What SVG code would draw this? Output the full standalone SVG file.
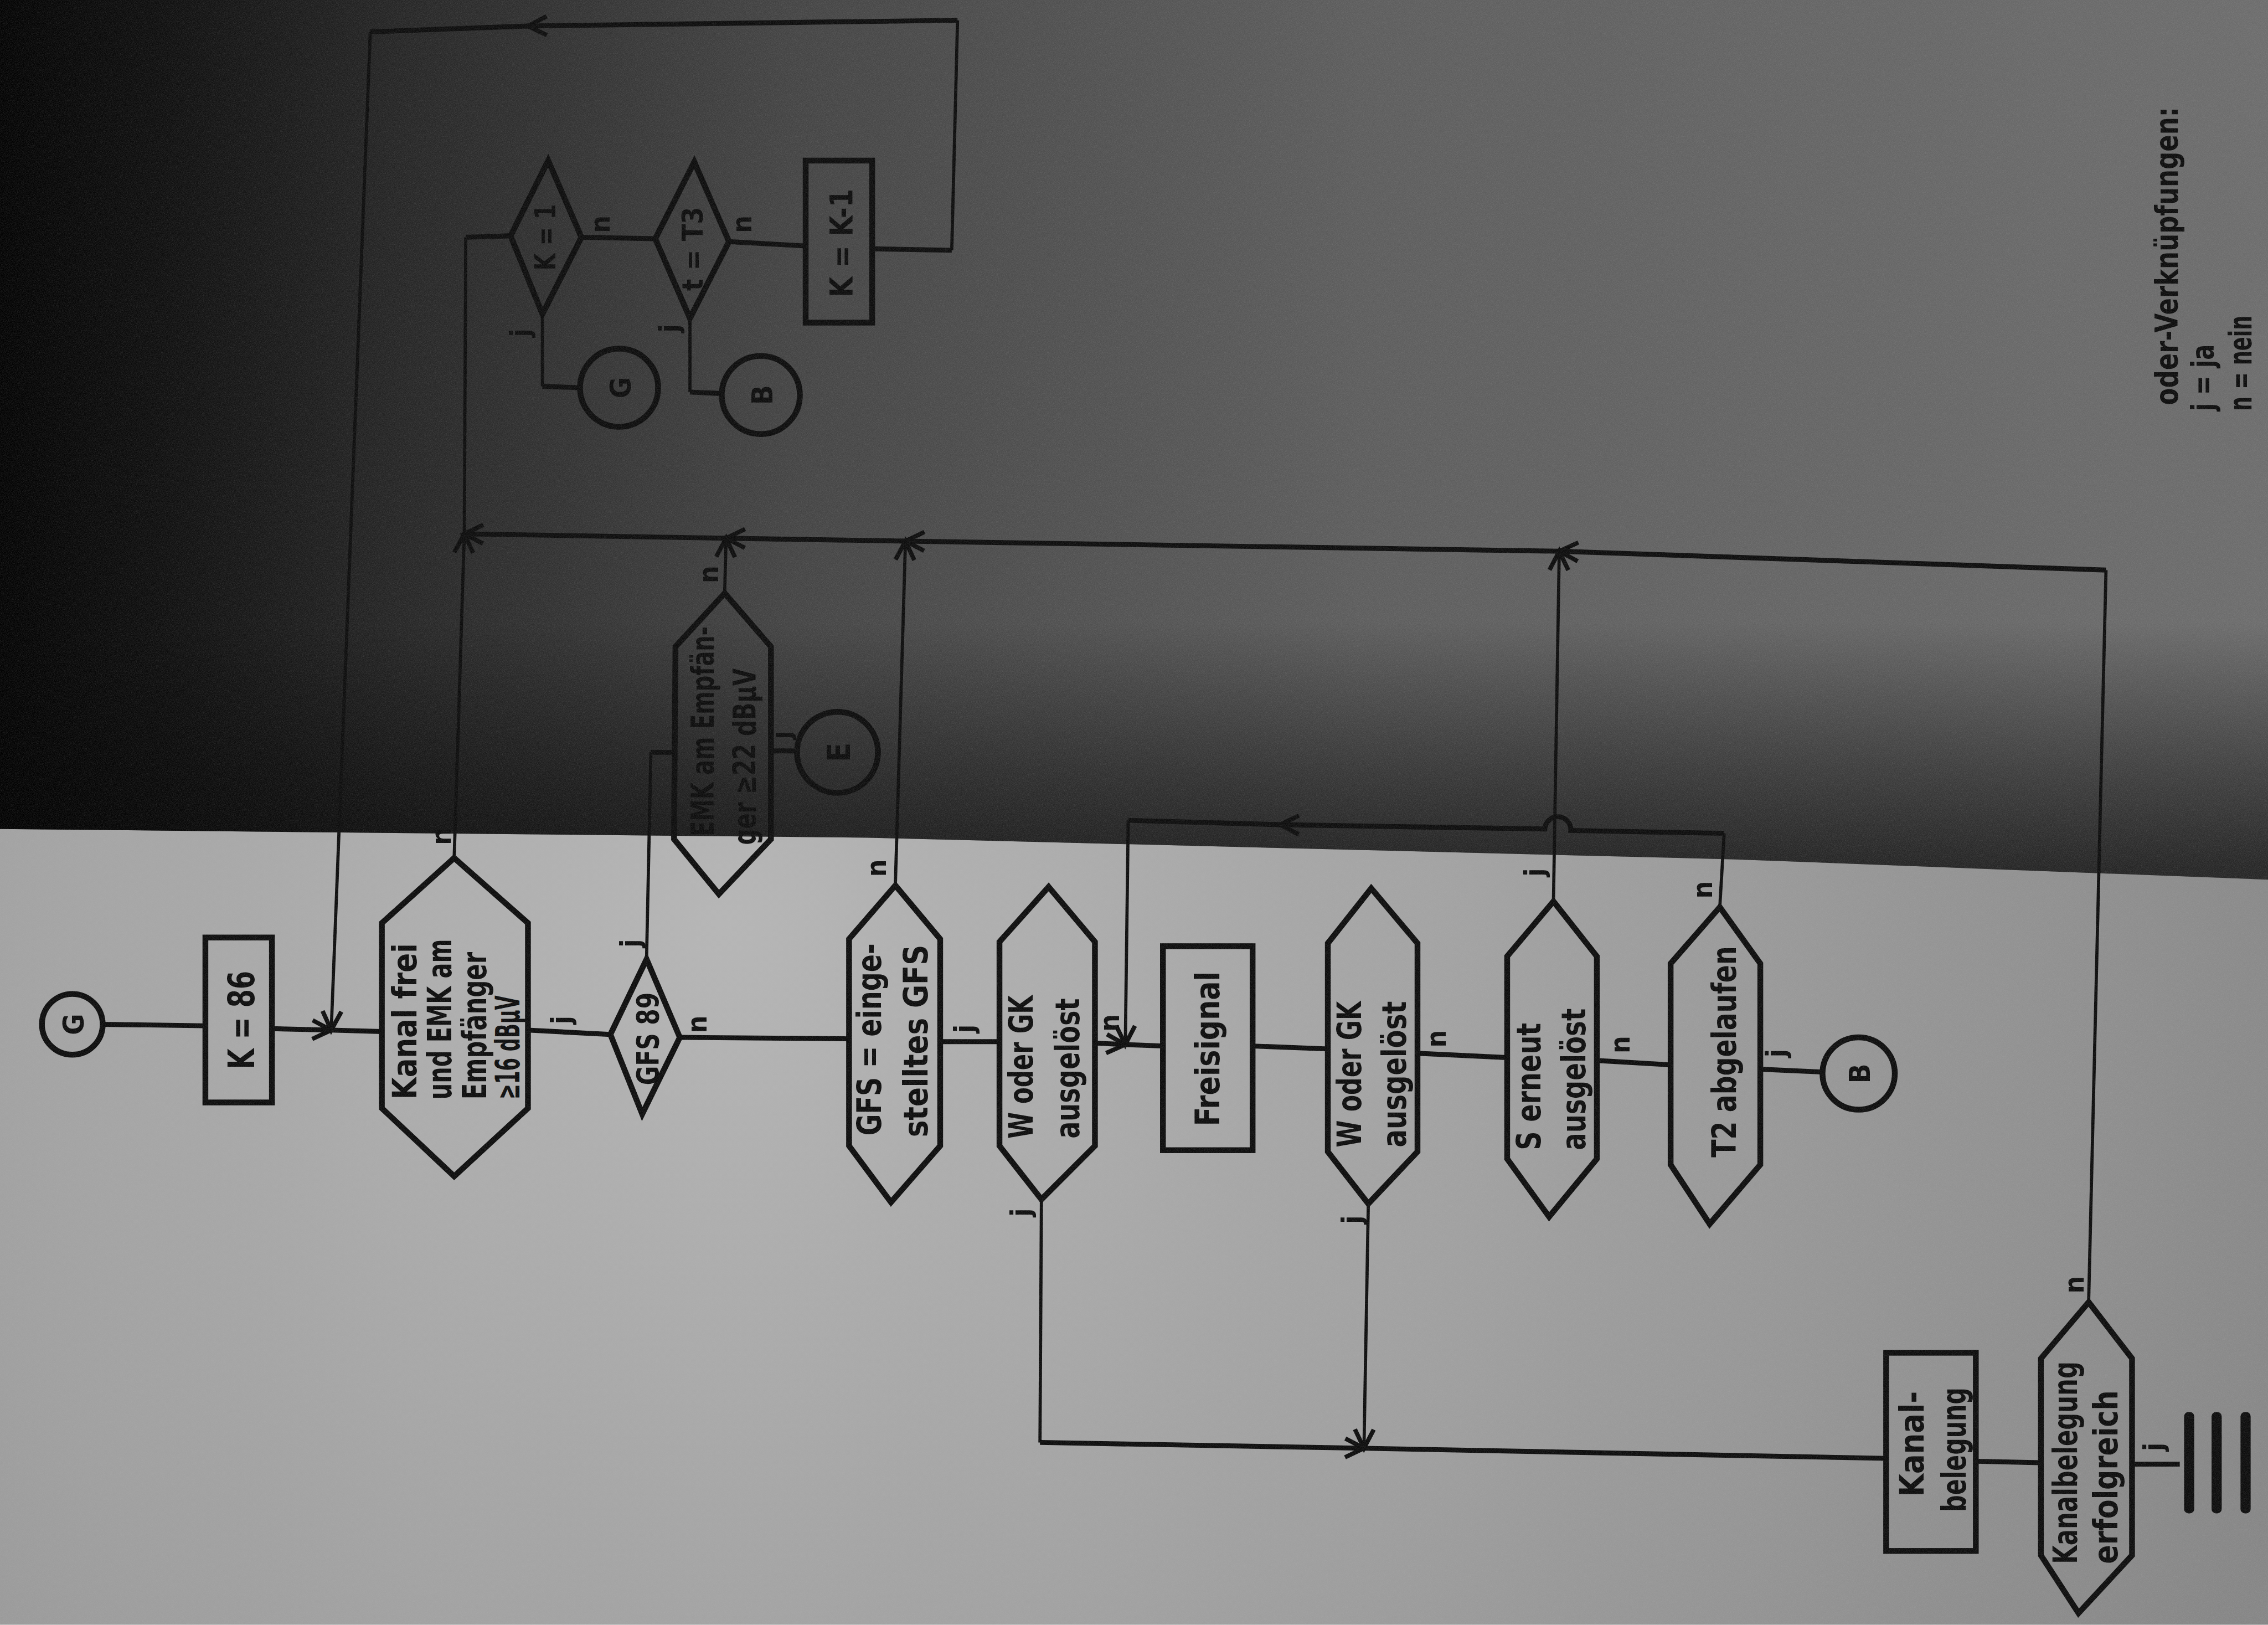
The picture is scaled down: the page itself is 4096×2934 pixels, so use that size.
<svg xmlns="http://www.w3.org/2000/svg" width="4096" height="2934" viewBox="0 0 4096 2934">
<defs>
<style>
.node{fill:none;stroke:#0c0c0c;stroke-width:4;stroke-linejoin:miter}
.h{fill:none;stroke:#0c0c0c;stroke-width:3.4;stroke-linecap:butt}
.v{fill:none;stroke:#0c0c0c;stroke-width:2.2;stroke-linecap:butt}
.t{font-family:"DejaVu Sans Condensed","DejaVu Sans","Liberation Sans",sans-serif;font-weight:bold;fill:#0c0c0c;dominant-baseline:central}
.lb{font-size:19px}
.bar{fill:#0c0c0c}
</style>
<marker id="ah" viewBox="-16 -10 20 20" refX="0" refY="0" markerWidth="20" markerHeight="20" markerUnits="userSpaceOnUse" orient="auto">
<path d="M-13,-6.5 L0,0 L-13,6.5" fill="none" stroke="#0c0c0c" stroke-width="3"/>
</marker>
<linearGradient id="gTop" x1="0" y1="0" x2="1568" y2="0" gradientUnits="userSpaceOnUse">
<stop offset="0" stop-color="#020202"/>
<stop offset="0.07" stop-color="#0e0e0e"/>
<stop offset="0.18" stop-color="#262626"/>
<stop offset="0.35" stop-color="#444"/>
<stop offset="0.6" stop-color="#5d5d5d"/>
<stop offset="1" stop-color="#6d6d6d"/>
</linearGradient>
<linearGradient id="gShade" x1="0" y1="430" x2="0" y2="600" gradientUnits="userSpaceOnUse">
<stop offset="0" stop-color="#000" stop-opacity="0"/>
<stop offset="0.6" stop-color="#000" stop-opacity="0.4"/>
<stop offset="1" stop-color="#000" stop-opacity="0.65"/>
</linearGradient>
<radialGradient id="gLow" cx="500" cy="640" r="1150" gradientUnits="userSpaceOnUse">
<stop offset="0" stop-color="#b6b6b6"/>
<stop offset="0.5" stop-color="#a0a0a0"/>
<stop offset="1" stop-color="#868686"/>
</radialGradient>
<filter id="grain" x="0" y="0" width="100%" height="100%">
<feTurbulence type="fractalNoise" baseFrequency="0.8" numOctaves="2" seed="3" result="n"/>
<feColorMatrix in="n" type="matrix" values="0 0 0 0 0.5  0 0 0 0 0.5  0 0 0 0 0.5  0 0 0 0.9 -0.3"/>
</filter>
</defs>
<g transform="scale(2.61224)">
<g id="background">
<rect x="0" y="0" width="1568" height="1123" fill="url(#gLow)"/>
<polygon points="0,0 1568,0 1568,608 1200,594 600,579 0,573" fill="url(#gTop)"/>
<polygon points="0,0 1568,0 1568,608 1200,594 600,579 0,573" fill="url(#gShade)"/>
</g>

<g id="connectors">
<line class="h" x1="71" y1="708" x2="142" y2="709"/>
<line class="h" x1="188" y1="711" x2="229" y2="712" marker-end="url(#ah)"/>
<line class="h" x1="229" y1="712" x2="264" y2="713"/>
<line class="h" x1="603" y1="172" x2="658" y2="173"/>
<line class="v" x1="658" y1="173" x2="662" y2="14"/>
<line class="h" x1="662" y1="14" x2="365" y2="18" marker-end="url(#ah)"/>
<line class="h" x1="365" y1="18" x2="256" y2="22"/>
<line class="v" x1="256" y1="22" x2="229" y2="712" marker-end="url(#ah)"/>
<line class="h" x1="365" y1="712" x2="422" y2="715"/>
<line class="h" x1="470" y1="717" x2="587" y2="718"/>
<line class="h" x1="650" y1="720" x2="691" y2="720"/>
<line class="h" x1="757" y1="721" x2="778" y2="722" marker-end="url(#ah)"/>
<line class="h" x1="778" y1="722" x2="804" y2="723"/>
<line class="v" x1="1189" y1="627" x2="1192" y2="576"/>
<path class="h" d="M1192,576 L1086,574 A9,9 0 0 0 1068,573 L885,570" marker-end="url(#ah)"/>
<line class="h" x1="885" y1="570" x2="780" y2="567"/>
<line class="v" x1="780" y1="567" x2="778" y2="722" marker-end="url(#ah)"/>
<line class="h" x1="866" y1="723" x2="918" y2="725"/>
<line class="h" x1="980" y1="728" x2="1042" y2="731"/>
<line class="h" x1="1104" y1="733" x2="1155" y2="736"/>
<line class="h" x1="1217" y1="739" x2="1260" y2="741"/>
<line class="v" x1="720" y1="829" x2="719" y2="997"/>
<line class="h" x1="719" y1="997" x2="943" y2="1001" marker-end="url(#ah)"/>
<line class="v" x1="946" y1="832" x2="943" y2="1001" marker-end="url(#ah)"/>
<line class="h" x1="943" y1="1001" x2="1304" y2="1008"/>
<line class="h" x1="1366" y1="1010" x2="1411" y2="1011"/>
<line class="h" x1="1474" y1="1012" x2="1507" y2="1012"/>
<line class="h" x1="1456" y1="394" x2="1078" y2="381" marker-end="url(#ah)"/>
<line class="h" x1="1078" y1="381" x2="626" y2="374" marker-end="url(#ah)"/>
<line class="h" x1="626" y1="374" x2="502" y2="372" marker-end="url(#ah)"/>
<line class="h" x1="502" y1="372" x2="321" y2="369" marker-end="url(#ah)"/>
<line class="v" x1="1074" y1="623" x2="1078" y2="381" marker-end="url(#ah)"/>
<line class="v" x1="619" y1="612" x2="626" y2="374" marker-end="url(#ah)"/>
<line class="v" x1="501" y1="410" x2="502" y2="372" marker-end="url(#ah)"/>
<line class="v" x1="314" y1="593" x2="321" y2="369" marker-end="url(#ah)"/>
<line class="v" x1="321" y1="369" x2="322" y2="164"/>
<line class="h" x1="322" y1="164" x2="353" y2="163"/>
<line class="v" x1="1444" y1="900" x2="1456" y2="394"/>
<line class="v" x1="447" y1="663" x2="450" y2="520"/>
<line class="h" x1="450" y1="520" x2="467" y2="520"/>
<line class="h" x1="533" y1="519" x2="551" y2="519"/>
<line class="h" x1="402" y1="164" x2="453" y2="165"/>
<line class="h" x1="504" y1="167" x2="557" y2="170"/>
<line class="v" x1="375" y1="217" x2="375" y2="267"/>
<line class="h" x1="375" y1="267" x2="401" y2="268"/>
<line class="v" x1="477" y1="220" x2="477" y2="271"/>
<line class="h" x1="477" y1="271" x2="499" y2="272"/>
</g>

<g id="node-G-start">
<circle class="node" cx="50" cy="708" r="21"/>
<text class="t" font-size="20" text-anchor="middle" transform="translate(51,708) rotate(-90)">G</text>
</g>
<g id="node-K86">
<rect class="node" x="142" y="648" width="46" height="114"/>
<text class="t" font-size="25" text-anchor="middle" transform="translate(167,705) rotate(-90)" textLength="68" lengthAdjust="spacingAndGlyphs">K = 86</text>
</g>
<g id="node-kanal-frei">
<polygon class="node" points="314,593 365,638 365,766 314,813 264,766 264,638"/>
<text class="t" font-size="23" transform="translate(280,760) rotate(-90)" textLength="108" lengthAdjust="spacingAndGlyphs">Kanal frei</text>
<text class="t" font-size="23" transform="translate(304,760) rotate(-90)" textLength="111" lengthAdjust="spacingAndGlyphs">und EMK am</text>
<text class="t" font-size="23" transform="translate(328,760) rotate(-90)" textLength="102" lengthAdjust="spacingAndGlyphs">Empfänger</text>
<text class="t" font-size="23" transform="translate(351,760) rotate(-90)" textLength="72" lengthAdjust="spacingAndGlyphs">≥16 dBμV</text>
</g>
<g id="node-GFS89">
<polygon class="node" points="447,663 470,717 444,770 422,715"/>
<text class="t" font-size="21" text-anchor="middle" transform="translate(448,718) rotate(-90)" textLength="64" lengthAdjust="spacingAndGlyphs">GFS 89</text>
</g>
<g id="node-EMK22">
<polygon class="node" points="501,410 533,447 533,580 497,618 466,580 467,447"/>
<text class="t" font-size="22" transform="translate(486,578) rotate(-90)" textLength="145" lengthAdjust="spacingAndGlyphs">EMK am Empfän-</text>
<text class="t" font-size="22" transform="translate(515,584) rotate(-90)" textLength="122" lengthAdjust="spacingAndGlyphs">ger ≥22 dBμV</text>
</g>
<g id="node-E">
<circle class="node" cx="579" cy="520" r="28"/>
<text class="t" font-size="22" text-anchor="middle" transform="translate(580,520) rotate(-90)">E</text>
</g>
<g id="node-GFS-eingestellt">
<polygon class="node" points="619,612 650,649 650,792 616,831 587,792 587,649"/>
<text class="t" font-size="23" transform="translate(601,785) rotate(-90)" textLength="133" lengthAdjust="spacingAndGlyphs">GFS = einge-</text>
<text class="t" font-size="23" transform="translate(633,786) rotate(-90)" textLength="133" lengthAdjust="spacingAndGlyphs">stelltes GFS</text>
</g>
<g id="node-W-GK-1">
<polygon class="node" points="725,613 757,651 757,792 720,829 691,792 691,651"/>
<text class="t" font-size="23" transform="translate(706,787) rotate(-90)" textLength="99" lengthAdjust="spacingAndGlyphs">W oder GK</text>
<text class="t" font-size="23" transform="translate(738,787) rotate(-90)" textLength="97" lengthAdjust="spacingAndGlyphs">ausgelöst</text>
</g>
<g id="node-Freisignal">
<rect class="node" x="804" y="654" width="62" height="141"/>
<text class="t" font-size="23" text-anchor="middle" transform="translate(835,725) rotate(-90)" textLength="107" lengthAdjust="spacingAndGlyphs">Freisignal</text>
</g>
<g id="node-W-GK-2">
<polygon class="node" points="948,614 980,652 980,796 946,832 918,796 918,652"/>
<text class="t" font-size="23" transform="translate(933,793) rotate(-90)" textLength="101" lengthAdjust="spacingAndGlyphs">W oder GK</text>
<text class="t" font-size="23" transform="translate(964,793) rotate(-90)" textLength="101" lengthAdjust="spacingAndGlyphs">ausgelöst</text>
</g>
<g id="node-S-erneut">
<polygon class="node" points="1074,623 1104,661 1104,801 1071,841 1042,801 1042,661"/>
<text class="t" font-size="23" transform="translate(1057,795) rotate(-90)" textLength="88" lengthAdjust="spacingAndGlyphs">S erneut</text>
<text class="t" font-size="23" transform="translate(1088,795) rotate(-90)" textLength="98" lengthAdjust="spacingAndGlyphs">ausgelöst</text>
</g>
<g id="node-T2">
<polygon class="node" points="1189,627 1217,666 1217,805 1182,846 1155,805 1155,666"/>
<text class="t" font-size="23" transform="translate(1192,800) rotate(-90)" textLength="146" lengthAdjust="spacingAndGlyphs">T2 abgelaufen</text>
</g>
<g id="node-B-main">
<circle class="node" cx="1285" cy="742" r="25"/>
<text class="t" font-size="20" text-anchor="middle" transform="translate(1286,742) rotate(-90)">B</text>
</g>
<g id="node-Kanalbelegung">
<rect class="node" x="1304" y="935" width="62" height="137"/>
<text class="t" font-size="23" text-anchor="middle" transform="translate(1322,998) rotate(-90)" textLength="73" lengthAdjust="spacingAndGlyphs">Kanal-</text>
<text class="t" font-size="23" text-anchor="middle" transform="translate(1351,1002) rotate(-90)" textLength="86" lengthAdjust="spacingAndGlyphs">belegung</text>
</g>
<g id="node-Kanalbelegung-erfolgreich">
<polygon class="node" points="1444,900 1474,939 1474,1075 1437,1115 1411,1075 1411,939"/>
<text class="t" font-size="23" transform="translate(1428,1081) rotate(-90)" textLength="140" lengthAdjust="spacingAndGlyphs">Kanalbelegung</text>
<text class="t" font-size="23" transform="translate(1456,1081) rotate(-90)" textLength="120" lengthAdjust="spacingAndGlyphs">erfolgreich</text>
</g>
<g id="node-end">
<rect class="bar" x="1510" y="976" width="7" height="70" rx="3"/>
<rect class="bar" x="1529" y="976" width="7" height="70" rx="3"/>
<rect class="bar" x="1549" y="976" width="7" height="70" rx="3"/>
</g>
<g id="node-K1">
<polygon class="node" points="379,111 402,164 375,217 353,163"/>
<text class="t" font-size="20" text-anchor="middle" transform="translate(377,164) rotate(-90)" textLength="46" lengthAdjust="spacingAndGlyphs">K = 1</text>
</g>
<g id="node-tT3">
<polygon class="node" points="480,112 504,167 477,220 453,165"/>
<text class="t" font-size="20" text-anchor="middle" transform="translate(479,172) rotate(-90)" textLength="58" lengthAdjust="spacingAndGlyphs">t = T3</text>
</g>
<g id="node-K-minus-1">
<rect class="node" x="557" y="111" width="46" height="112"/>
<text class="t" font-size="22" text-anchor="middle" transform="translate(582,168) rotate(-90)" textLength="75" lengthAdjust="spacingAndGlyphs">K = K-1</text>
</g>
<g id="node-G-small">
<circle class="node" cx="428" cy="268" r="27"/>
<text class="t" font-size="20" text-anchor="middle" transform="translate(429,268) rotate(-90)">G</text>
</g>
<g id="node-B-small">
<circle class="node" cx="526" cy="273" r="27"/>
<text class="t" font-size="20" text-anchor="middle" transform="translate(527,273) rotate(-90)">B</text>
</g>

<g id="branch-labels">
<text class="t lb" text-anchor="middle" transform="translate(305,578) rotate(-90)">n</text>
<text class="t lb" text-anchor="middle" transform="translate(388,705) rotate(-90)">j</text>
<text class="t lb" text-anchor="middle" transform="translate(436,652) rotate(-90)">j</text>
<text class="t lb" text-anchor="middle" transform="translate(482,708) rotate(-90)">n</text>
<text class="t lb" text-anchor="middle" transform="translate(490,397) rotate(-90)">n</text>
<text class="t lb" text-anchor="middle" transform="translate(540,508) rotate(-90)">j</text>
<text class="t lb" text-anchor="middle" transform="translate(606,600) rotate(-90)">n</text>
<text class="t lb" text-anchor="middle" transform="translate(667,711) rotate(-90)">j</text>
<text class="t lb" text-anchor="middle" transform="translate(767,707) rotate(-90)">n</text>
<text class="t lb" text-anchor="middle" transform="translate(706,838) rotate(-90)">j</text>
<text class="t lb" text-anchor="middle" transform="translate(993,718) rotate(-90)">n</text>
<text class="t lb" text-anchor="middle" transform="translate(935,843) rotate(-90)">j</text>
<text class="t lb" text-anchor="middle" transform="translate(1061,603) rotate(-90)">j</text>
<text class="t lb" text-anchor="middle" transform="translate(1120,722) rotate(-90)">n</text>
<text class="t lb" text-anchor="middle" transform="translate(1177,615) rotate(-90)">n</text>
<text class="t lb" text-anchor="middle" transform="translate(1228,728) rotate(-90)">j</text>
<text class="t lb" text-anchor="middle" transform="translate(1434,888) rotate(-90)">n</text>
<text class="t lb" text-anchor="middle" transform="translate(1489,1000) rotate(-90)">j</text>
<text class="t lb" text-anchor="middle" transform="translate(360,230) rotate(-90)">j</text>
<text class="t lb" text-anchor="middle" transform="translate(415,155) rotate(-90)">n</text>
<text class="t lb" text-anchor="middle" transform="translate(463,227) rotate(-90)">j</text>
<text class="t lb" text-anchor="middle" transform="translate(513,155) rotate(-90)">n</text>
</g>

<g id="legend">
<text class="t" font-size="22" transform="translate(1498,280) rotate(-90)" textLength="206" lengthAdjust="spacingAndGlyphs">oder-Verknüpfungen:</text>
<text class="t" font-size="22" transform="translate(1523,284) rotate(-90)" textLength="46" lengthAdjust="spacingAndGlyphs">j = ja</text>
<text class="t" font-size="22" transform="translate(1549,284) rotate(-90)" textLength="66" lengthAdjust="spacingAndGlyphs">n = nein</text>
</g>
</g>
<rect x="0" y="0" width="4096" height="2934" filter="url(#grain)" opacity="0.35"/>
</svg>
